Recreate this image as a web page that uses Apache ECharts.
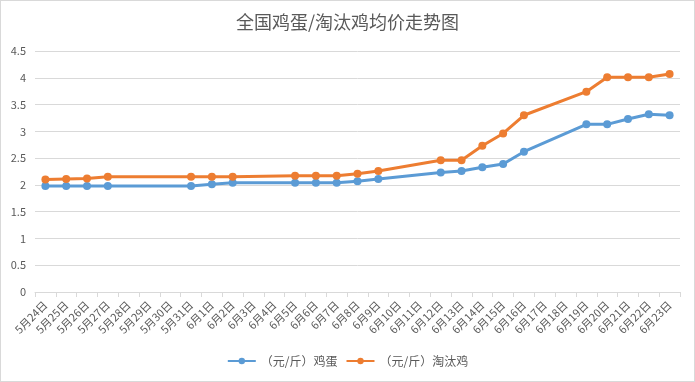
<!DOCTYPE html>
<html><head><meta charset="utf-8">
<script src="https://cdn.jsdelivr.net/npm/echarts@6/dist/echarts.min.js"></script>
<style>html,body{margin:0;padding:0;background:#fff}#c{width:693px;height:380px;border:1px solid #d9d9d9}</style>
</head><body><div id="c"></div>
<script>
const categories = ['5月24日','5月25日','5月26日','5月27日','5月28日','5月29日','5月30日','5月31日','6月1日','6月2日','6月3日','6月4日','6月5日','6月6日','6月7日','6月8日','6月9日','6月10日','6月11日','6月12日','6月13日','6月14日','6月15日','6月16日','6月17日','6月18日','6月19日','6月20日','6月21日','6月22日','6月23日'];
const eggPrice = [1.98,1.98,1.98,1.98,null,null,null,1.98,2.01,2.04,null,null,2.04,2.04,2.04,2.07,2.11,null,null,2.23,2.26,2.33,2.39,2.62,null,null,3.13,3.13,3.23,3.32,3.30];
const henPrice = [2.10,2.11,2.12,2.15,null,null,null,2.15,2.15,2.15,null,null,2.17,2.17,2.17,2.21,2.26,null,null,2.46,2.46,2.73,2.96,3.30,null,null,3.74,4.01,4.01,4.01,4.07];
const seriesNames = ['（元/斤）鸡蛋','（元/斤）淘汰鸡'];
const chart = echarts.init(document.getElementById('c'));
const font = '"Noto Sans CJK SC", sans-serif';
chart.setOption({
  animation:false,
  color:['#5B9BD5','#ED7D31'],
  textStyle:{fontFamily:font},
  title:{text:'全国鸡蛋/淘汰鸡均价走势图',left:'center',top:7,textStyle:{fontSize:18,fontWeight:'normal',color:'#595959',fontFamily:font}},
  legend:{bottom:9,itemWidth:28,itemHeight:8,itemGap:8,textStyle:{fontSize:12,color:'#595959',fontFamily:font},data:seriesNames},
  grid:{left:34,right:14,top:50,bottom:89},
  xAxis:{type:'category',data:categories,boundaryGap:true,
    axisLine:{lineStyle:{color:'#d9d9d9'}},
    axisTick:{show:true,length:5,lineStyle:{color:'#d9d9d9'}},
    axisLabel:{rotate:45,interval:0,fontSize:11,color:'#595959',margin:11,fontFamily:font}},
  yAxis:{type:'value',min:0,max:4.5,interval:0.5,
    axisLine:{show:false},axisTick:{show:false},
    splitLine:{lineStyle:{color:'#d9d9d9'}},
    axisLabel:{fontSize:11,color:'#595959',margin:9,fontFamily:font}},
  series:[
    {name:seriesNames[0],type:'line',data:eggPrice,connectNulls:true,symbol:'circle',symbolSize:8,lineStyle:{width:3}},
    {name:seriesNames[1],type:'line',data:henPrice,connectNulls:true,symbol:'circle',symbolSize:8,lineStyle:{width:3}}
  ]
});
</script></body></html>
